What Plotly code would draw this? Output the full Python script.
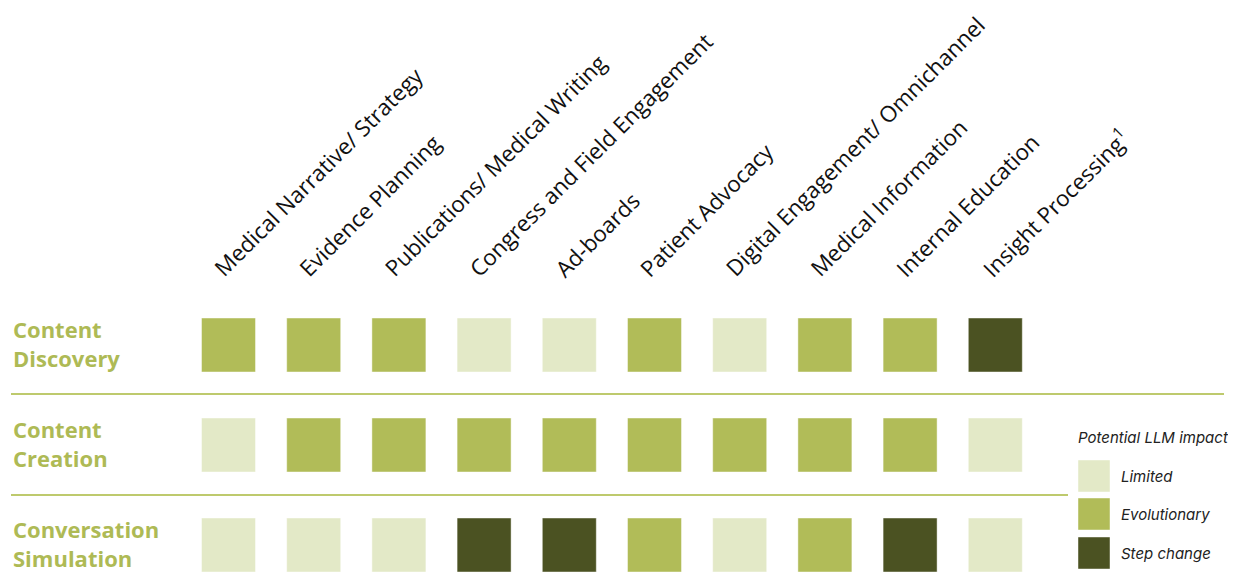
import plotly.graph_objects as go

columns = ["Medical Narrative/ Strategy", "Evidence Planning", "Publications/ Medical Writing",
           "Congress and Field Engagement", "Ad-boards", "Patient Advocacy",
           "Digital Engagement/ Omnichannel", "Medical Information", "Internal Education",
           "Insight Processing<sup>1</sup>"]
rows = ["Content<br>Discovery", "Content<br>Creation", "Conversation<br>Simulation"]
levels = ["Limited", "Evolutionary", "Step change"]
level_colors = {"Limited": "#E3E9C7", "Evolutionary": "#B1BC58", "Step change": "#4B5222"}

impact = [
    ["Evolutionary", "Evolutionary", "Evolutionary", "Limited", "Limited", "Evolutionary", "Limited", "Evolutionary", "Evolutionary", "Step change"],
    ["Limited", "Evolutionary", "Evolutionary", "Evolutionary", "Evolutionary", "Evolutionary", "Evolutionary", "Evolutionary", "Evolutionary", "Limited"],
    ["Limited", "Limited", "Limited", "Step change", "Step change", "Evolutionary", "Limited", "Evolutionary", "Step change", "Limited"],
]

OFF = 8               # browser body margin
W, H = 1236 - OFF, 573 - OFF
X0, DX = 228.5 - OFF, 85.2   # pixel position of column 0, column spacing
Y0, DY = 345 - OFF, 100      # pixel position of row 0, row spacing


def px(x):
    return (x - OFF - X0) / DX


def py(y):
    return (y - OFF - Y0) / DY


fig = go.Figure()
for lvl in levels:
    xs, ys = [], []
    for r, row in enumerate(impact):
        for c, v in enumerate(row):
            if v == lvl:
                xs.append(c)
                ys.append(r)
    fig.add_trace(go.Scatter(
        x=xs, y=ys, mode="markers",
        marker=dict(symbol="square", size=54, color=level_colors[lvl],
                    line=dict(width=1, color="rgba(255,255,255,0.45)")),
        showlegend=False, hoverinfo="skip"))

# custom legend
leg_y = [py(476), py(514), py(553)]
fig.add_trace(go.Scatter(
    x=[px(1094)] * 3, y=leg_y, mode="markers",
    marker=dict(symbol="square", size=32, color=[level_colors[l] for l in levels],
                line=dict(width=1, color="rgba(255,255,255,0.45)")),
    showlegend=False, hoverinfo="skip"))

ann = []
for c, name in enumerate(columns):
    ann.append(dict(x=c, y=py(286), xref="x", yref="y", text=name, showarrow=False,
                    textangle=-45, xanchor="left", yanchor="bottom", xshift=-24,
                    font=dict(family="Open Sans", size=22.3, color="#111111")))
for r, name in enumerate(rows):
    ann.append(dict(x=px(11), xref="x", y=r, yref="y", yshift=2, text=name, showarrow=False,
                    xanchor="left", yanchor="middle", align="left",
                    font=dict(family="Open Sans", size=22, color="#AEBA55", weight="bold")))
ann.append(dict(x=px(1076), xref="x", y=py(437), yref="y",
                text="<i>Potential LLM impact</i>", showarrow=False, xanchor="left",
                yanchor="middle", font=dict(family="Inter", size=15, color="#222222")))
for lvl, yy in zip(levels, leg_y):
    ann.append(dict(x=px(1119), xref="x", y=yy, yref="y", text="<i>" + lvl + "</i>",
                    showarrow=False, xanchor="left", yanchor="middle",
                    font=dict(family="Inter", size=15, color="#222222")))

shapes = [
    dict(type="line", xref="x", yref="y", x0=px(11), x1=px(1224),
         y0=py(394), y1=py(394), line=dict(color="#A9B83C", width=1.3)),
    dict(type="line", xref="x", yref="y", x0=px(11), x1=px(1068),
         y0=py(495), y1=py(495), line=dict(color="#A9B83C", width=1.3)),
]

fig.update_layout(
    width=W, height=H, margin=dict(l=0, r=0, t=0, b=0),
    paper_bgcolor="white", plot_bgcolor="white",
    xaxis=dict(range=[-X0 / DX, (W - X0) / DX], visible=False, fixedrange=True),
    yaxis=dict(range=[(H - Y0) / DY, -Y0 / DY], visible=False, fixedrange=True),
    annotations=ann, shapes=shapes,
)
fig.write_html("out.html")
